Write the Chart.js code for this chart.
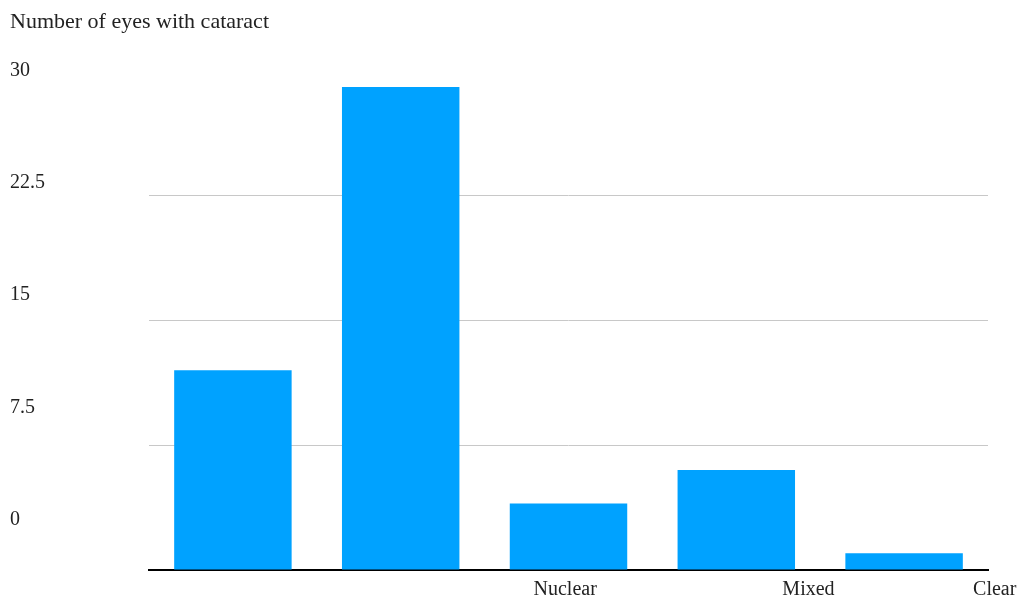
<!DOCTYPE html>
<html>
<head>
<meta charset="utf-8">
<script src="https://cdn.jsdelivr.net/npm/chart.js@4/dist/chart.umd.min.js"></script>
<style>
  html, body { margin: 0; padding: 0; background: #fff; }
  #wrap { width: 1018px; height: 597px; }
</style>
</head>
<body>
<div id="wrap"><canvas id="cataractChart" width="1018" height="597"></canvas></div>
<script>
// values
const categories = ['', '', 'Nuclear', 'Mixed', 'Clear'];
const eyeCounts = [12, 29, 4, 6, 1];
const yTickLabels = [30, 22.5, 15, 7.5, 0];
const xTickLabels = ['Nuclear', 'Mixed', 'Clear'];

const serif = '"Liberation Serif", "DejaVu Serif", serif';
const textColor = '#222';

new Chart(document.getElementById('cataractChart').getContext('2d'), {
    type: 'bar',
    data: {
        labels: categories,
        datasets: [{
            label: 'Number of eyes with cataract',
            data: eyeCounts,
            backgroundColor: '#00a2ff',
            borderWidth: 0,
            categoryPercentage: 1,
            barPercentage: 0.7
        }]
    },
    options: {
        responsive: false,
        animation: false,
        layout: { padding: { left: 10, right: 30, top: 0, bottom: 0 } },
        plugins: {
            legend: { display: false },
            tooltip: { enabled: false },
            title: {
                display: true,
                text: 'Number of eyes with cataract',
                align: 'start',
                color: textColor,
                font: { family: serif, size: 22, weight: 'normal' },
                padding: { top: 9, bottom: 35 }
            }
        },
        scales: {
            x: {
                weight: 0,
                grid: { display: false, drawTicks: false },
                ticks: { display: false },
                border: { display: true, color: '#000', width: 2 },
                afterFit: s => { s.height = 0; }
            },
            // the labels under the axis sit off the bar centres in the original
            x2: {
                type: 'linear',
                position: 'bottom',
                weight: 1,
                offset: false,
                min: 0,
                max: 5,
                grid: { display: false, drawTicks: false },
                border: { display: false },
                afterBuildTicks: s => {
                    s.ticks = [2.48, 3.93, 5.04].map(v => ({ value: v }));
                },
                ticks: {
                    autoSkip: false,
                    maxRotation: 0,
                    padding: 8,
                    color: textColor,
                    font: { family: serif, size: 20 },
                    callback: (v, i) => xTickLabels[i]
                },
                afterFit: s => {
                    s.height = 27;
                    s.paddingLeft = 0;
                    s.paddingRight = 0;
                }
            },
            y: {
                weight: 0,
                min: 0,
                max: 30,
                ticks: { display: false, stepSize: 7.5 },
                grid: {
                    drawTicks: false,
                    color: ctx => (ctx.tick.value === 0 || ctx.tick.value === 30) ? 'transparent' : '#c8c8c8',
                    lineWidth: 1
                },
                border: { display: false },
                afterFit: s => { s.width = 0; }
            },
            // value labels on the left are spaced tighter than the grid lines
            y2: {
                type: 'linear',
                position: 'left',
                weight: 1,
                min: -3.33,
                max: 30,
                grid: { display: false, drawTicks: false },
                border: { display: false },
                afterBuildTicks: s => {
                    s.ticks = yTickLabels.map(v => ({ value: v }));
                },
                ticks: {
                    autoSkip: false,
                    crossAlign: 'far',
                    color: textColor,
                    font: { family: serif, size: 20 },
                    callback: v => String(v)
                },
                afterFit: s => { s.width = 139; }
            }
        }
    }
});
</script>
</body>
</html>
